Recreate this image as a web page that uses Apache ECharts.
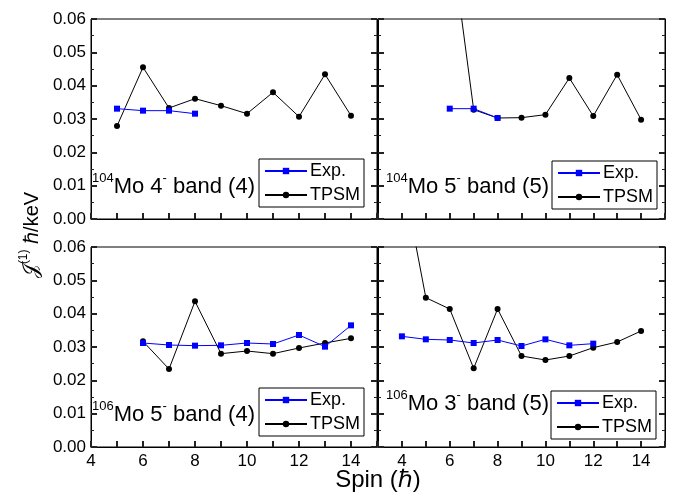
<!DOCTYPE html>
<html><head><meta charset="utf-8">
<script src="https://cdn.jsdelivr.net/npm/echarts@6/dist/echarts.min.js"></script>
<style>html,body{margin:0;padding:0;background:#fff}#c{width:675px;height:500px}</style>
</head><body><div id="c"></div>
<script>
// ---- data ----
const xTicks = [4, 6, 8, 10, 12, 14];

// 104Mo 4- band (4)
const expSpinTL = [5, 6, 7, 8];
const expTL = [0.0331, 0.0325, 0.0325, 0.0316];
const tpsmSpinTL = [5, 6, 7, 8, 9, 10, 11, 12, 13, 14];
const tpsmTL = [0.0279, 0.0455, 0.0333, 0.0361, 0.0340, 0.0316, 0.0380, 0.0307, 0.0434, 0.0310];

// 104Mo 5- band (5)
const expSpinTR = [6, 7, 8];
const expTR = [0.0331, 0.0331, 0.0303];
const tpsmSpinTR = [6, 7, 8, 9, 10, 11, 12, 13, 14];
const tpsmTR = [0.0872, 0.0328, 0.0303, 0.0304, 0.0313, 0.0423, 0.0309, 0.0433, 0.0298];

// 106Mo 5- band (4)
const expSpinBL = [6, 7, 8, 9, 10, 11, 12, 13, 14];
const expBL = [0.0312, 0.0306, 0.0304, 0.0305, 0.0312, 0.0309, 0.0336, 0.0301, 0.0365];
const tpsmSpinBL = [6, 7, 8, 9, 10, 11, 12, 13, 14];
const tpsmBL = [0.0317, 0.0234, 0.0437, 0.0280, 0.0288, 0.0280, 0.0297, 0.0312, 0.0326];

// 106Mo 3- band (5)
const expSpinBR = [4, 5, 6, 7, 8, 9, 10, 11, 12];
const expBR = [0.0332, 0.0323, 0.0321, 0.0312, 0.0321, 0.0303, 0.0323, 0.0305, 0.0310];
const tpsmSpinBR = [4, 5, 6, 7, 8, 9, 10, 11, 12, 13, 14];
const tpsmBR = [0.0825, 0.0448, 0.0414, 0.0236, 0.0414, 0.0273, 0.0261, 0.0273, 0.0298, 0.0315, 0.0348];

const panelLabels = [
  ['104', 'Mo 4', '-', ' band (4)'],
  ['104', 'Mo 5', '-', ' band (5)'],
  ['106', 'Mo 5', '-', ' band (4)'],
  ['106', 'Mo 3', '-', ' band (5)']
];

// ---- chart ----
const FONT = 'Liberation Sans, Arial, sans-serif';
const zip = (xs, ys) => xs.map((x, i) => [x, ys[i]]);

const frame = {show: true, borderColor: '#000', borderWidth: 1, backgroundColor: 'rgba(0,0,0,0)'};
const grids = [
  Object.assign({left: 91, top: 19, width: 286, height: 200}, frame),
  Object.assign({left: 378, top: 19, width: 287, height: 200}, frame),
  Object.assign({left: 91, top: 247, width: 286, height: 200}, frame),
  Object.assign({left: 378, top: 247, width: 287, height: 200}, frame)
];
const xMins = [4, 3, 4, 3];
const showXLabel = [false, false, true, true];
const showYLabel = [true, false, true, false];

const xAxis = [], yAxis = [], series = [];
grids.forEach((g, i) => {
  xAxis.push({
    gridIndex: i, type: 'value', min: xMins[i], max: 15, interval: 1,
    axisLine: {show: true, onZero: false, lineStyle: {color: '#000', width: 1}},
    axisTick: {show: true, inside: true, length: 6, lineStyle: {color: '#222', width: 2}},
    axisLabel: {show: showXLabel[i], fontFamily: FONT, fontSize: 17, color: '#000', margin: 6,
      formatter: v => (xTicks.indexOf(v) >= 0 ? String(v) : '')},
    splitLine: {show: false}
  });
  yAxis.push({
    gridIndex: i, type: 'value', min: 0, max: 0.06, interval: 0.01,
    axisLine: {show: true, onZero: false, lineStyle: {color: '#000', width: 1}},
    axisTick: {show: true, inside: true, length: 6, lineStyle: {color: '#222', width: 2}},
    minorTick: {show: true, splitNumber: 2, length: 3, lineStyle: {color: '#222', width: 1}},
    axisLabel: {show: showYLabel[i], fontFamily: FONT, fontSize: 17, color: '#000', margin: 5,
      formatter: v => v.toFixed(2)},
    splitLine: {show: false}
  });
});
grids.forEach((g, i) => {
  yAxis.push({
    gridIndex: i, type: 'value', position: 'right', min: 0, max: 0.06, interval: 0.01,
    axisLine: {show: true, onZero: false, lineStyle: {color: '#000', width: 1}},
    axisTick: {show: true, inside: true, length: 6, lineStyle: {color: '#222', width: 2}},
    minorTick: {show: true, splitNumber: 2, length: 3, lineStyle: {color: '#222', width: 1}},
    axisLabel: {show: false}, splitLine: {show: false}
  });
});

const expSets = [zip(expSpinTL, expTL), zip(expSpinTR, expTR), zip(expSpinBL, expBL), zip(expSpinBR, expBR)];
const tpsmSets = [zip(tpsmSpinTL, tpsmTL), zip(tpsmSpinTR, tpsmTR), zip(tpsmSpinBL, tpsmBL), zip(tpsmSpinBR, tpsmBR)];

for (let i = 0; i < 4; i++) {
  series.push({
    name: 'TPSM', type: 'line', xAxisIndex: i, yAxisIndex: i, data: tpsmSets[i],
    symbol: 'circle', symbolSize: 6, clip: true,
    itemStyle: {color: '#000'}, lineStyle: {color: '#000', width: 1}, z: 2
  });
  series.push({
    name: 'Exp.', type: 'line', xAxisIndex: i, yAxisIndex: i, data: expSets[i],
    symbol: 'rect', symbolSize: 6, clip: true,
    itemStyle: {color: '#0000ff'}, lineStyle: {color: '#0000ff', width: 1}, z: 3
  });
}

const legendPos = [
  {left: 259, top: 159}, {left: 552, top: 161}, {left: 259, top: 388}, {left: 551, top: 391}
];
const legend = legendPos.map(p => ({
  left: p.left, top: p.top, orient: 'vertical', data: ['Exp.', 'TPSM'],
  borderColor: '#000', borderWidth: 1, padding: [3, 4, 3, 5], itemGap: 6,
  itemWidth: 42, itemHeight: 8, selectedMode: false,
  textStyle: {fontFamily: FONT, fontSize: 18, color: '#000', padding: [0, 0, 0, -2]}
}));

const labelPos = [
  {x: 92, y: 185}, {x: 386, y: 185}, {x: 92, y: 413}, {x: 386, y: 402}
];
const graphic = labelPos.map((p, i) => ({
  type: 'text', x: p.x, y: p.y,
  style: {
    text: '{s|' + panelLabels[i][0] + '}{n|' + panelLabels[i][1] + '}{s|' + panelLabels[i][2] + '}{n|' + panelLabels[i][3] + '}',
    verticalAlign: 'middle',
    rich: {
      n: {fontFamily: FONT, fontSize: 22, fill: '#000', lineHeight: 26, verticalAlign: 'bottom'},
      s: {fontFamily: FONT, fontSize: 13, fill: '#000', lineHeight: 26, verticalAlign: 'top', padding: [0, 0, 10, 0]}
    }
  }
}));
graphic.push({
  type: 'text', x: 378, y: 480,
  style: {text: 'Spin (\u210F)', fontFamily: FONT, fontSize: 24, fill: '#000', align: 'center', verticalAlign: 'middle'}
});
graphic.push({
  type: 'text', x: 30, y: 235, rotation: Math.PI / 2,
  style: {
    text: '{j|\uD835\uDCA5}{s|(1)}{n| \u210F/keV}', align: 'center', verticalAlign: 'middle',
    rich: {
      j: {fontFamily: 'DejaVu Serif, serif', fontSize: 20, fill: '#000', lineHeight: 24, verticalAlign: 'bottom'},
      n: {fontFamily: FONT, fontSize: 20, fill: '#000', lineHeight: 24, verticalAlign: 'bottom'},
      s: {fontFamily: FONT, fontSize: 12, fill: '#000', lineHeight: 24, verticalAlign: 'top', padding: [0, 0, 9, 0]}
    }
  }
});

const chart = echarts.init(document.getElementById('c'), null, {renderer: 'canvas'});
chart.setOption({
  animation: false,
  backgroundColor: '#fff',
  grid: grids,
  xAxis, yAxis, series, legend, graphic
});
</script>
</body></html>
